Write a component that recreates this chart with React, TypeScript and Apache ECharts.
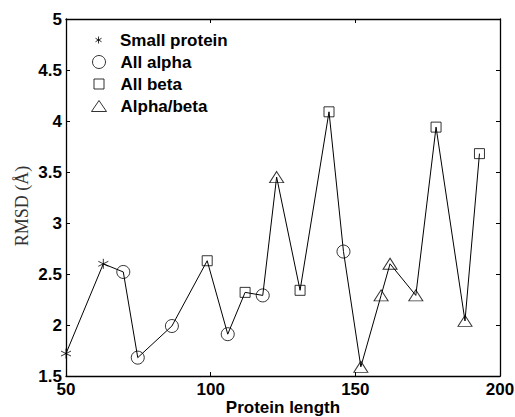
import React, { useEffect, useRef } from "react";
import * as echarts from "echarts";

// Data (protein length, RMSD) in plotting order
const lengths = [50, 62.9, 69.8, 74.8, 86.6, 98.8, 105.9, 111.9, 118, 122.8, 130.9, 140.9, 145.9, 151.9, 158.9, 162, 170.9, 177.9, 187.9, 192.9];
const rmsd = [1.72, 2.6, 2.52, 1.68, 1.99, 2.63, 1.91, 2.32, 2.29, 3.45, 2.34, 4.09, 2.72, 1.59, 2.29, 2.6, 2.29, 3.94, 2.04, 3.68];
const classes = ["small", "small", "alpha", "alpha", "alpha", "beta", "alpha", "beta", "alpha", "ab", "beta", "beta", "alpha", "ab", "ab", "ab", "ab", "beta", "ab", "beta"];

const classKeys = ["small", "alpha", "beta", "ab"];
const classNames = ["Small protein", "All alpha", "All beta", "Alpha/beta"];
const xTicks = [50, 100, 150, 200];
const yTicks = [1.5, 2, 2.5, 3, 3.5, 4, 4.5, 5];

const STAR = "path://M0,-5L0,5M-4.33,-2.5L4.33,2.5M-4.33,2.5L4.33,-2.5";
const symbols = [STAR, "circle", "rect", "triangle"];
const sizes: any[] = [10, 13, 10, [14, 11]];
const legendW = [7, 13, 10, 15];
const legendH = [7, 13, 10, 11];
const legendY = [40, 62, 84, 106];

export default function App() {
  const ref = useRef<HTMLDivElement>(null);
  useEffect(() => {
    const chart = echarts.init(ref.current!, null, { renderer: "svg" });
    const pts = lengths.map((x, i) => [x, rmsd[i]]);
    const font = "'Liberation Sans', Arial, sans-serif";
    const hollow = { color: "rgba(255,255,255,0)", borderColor: "#000", borderWidth: 1 };
    const scatter = classKeys.map((k, ci) => ({
      type: "scatter",
      name: classNames[ci],
      data: pts.filter((_, i) => classes[i] === k),
      symbol: symbols[ci],
      symbolSize: sizes[ci],
      itemStyle: hollow,
      z: 3,
    }));
    const legends = classNames.map((n, i) => ({
      left: 98.5 - legendW[i] / 2,
      top: legendY[i] - 10,
      padding: 0,
      itemWidth: legendW[i],
      itemHeight: legendH[i],
      itemGap: 0,
      selectedMode: false,
      data: [{ name: n, icon: symbols[i], itemStyle: hollow }],
      textStyle: {
        fontFamily: font,
        fontWeight: "bold",
        fontSize: 17,
        lineHeight: 20,
        color: "#000",
        padding: [0, 0, 0, 120 - (98.5 + legendW[i] / 2 + 5)],
      },
    }));
    const axisCommon = {
      type: "value",
      splitLine: { show: false },
      axisLine: { show: true, lineStyle: { color: "#000", width: 1.3 } },
      axisTick: { show: true, inside: true, length: 4, lineStyle: { color: "#000" } },
    };
    chart.setOption({
      animation: false,
      backgroundColor: "#fff",
      grid: { left: 66, right: 15, top: 19, bottom: 41, containLabel: false, outerBoundsMode: "none" },
      legend: legends,
      xAxis: [
        {
          ...axisCommon,
          min: xTicks[0],
          max: xTicks[xTicks.length - 1],
          interval: 50,
          axisLabel: { fontFamily: font, fontWeight: "bold", fontSize: 17, color: "#000", margin: 5 },
        },
        {
          ...axisCommon,
          position: "top",
          min: xTicks[0],
          max: xTicks[xTicks.length - 1],
          interval: 50,
          axisLabel: { show: false },
        },
      ],
      yAxis: [
        {
          ...axisCommon,
          min: yTicks[0],
          max: yTicks[yTicks.length - 1],
          interval: 0.5,
          axisLabel: { fontFamily: font, fontWeight: "bold", fontSize: 17, color: "#000", margin: 4 },
        },
        {
          ...axisCommon,
          position: "right",
          min: yTicks[0],
          max: yTicks[yTicks.length - 1],
          interval: 0.5,
          axisLabel: { show: false },
        },
      ],
      graphic: [
        {
          type: "text",
          x: 283,
          y: 416,
          style: {
            text: "Protein length",
            font: `bold 17px ${font}`,
            fill: "#000",
            textAlign: "center",
            textVerticalAlign: "bottom",
          },
        },
        {
          type: "text",
          x: 22,
          y: 206,
          rotation: Math.PI / 2,
          style: {
            text: "RMSD (Å)",
            font: "18px 'Liberation Serif', 'DejaVu Serif', serif",
            fill: "#333",
            textAlign: "center",
            textVerticalAlign: "middle",
          },
        },
      ],
      series: [
        {
          type: "line",
          data: pts,
          showSymbol: false,
          symbol: "none",
          lineStyle: { color: "#000", width: 1 },
          z: 2,
          silent: true,
        },
        ...scatter,
      ],
    });
    return () => chart.dispose();
  }, []);
  return <div ref={ref} style={{ position: "fixed", left: 0, top: 0, width: 515, height: 417 }} />;
}
